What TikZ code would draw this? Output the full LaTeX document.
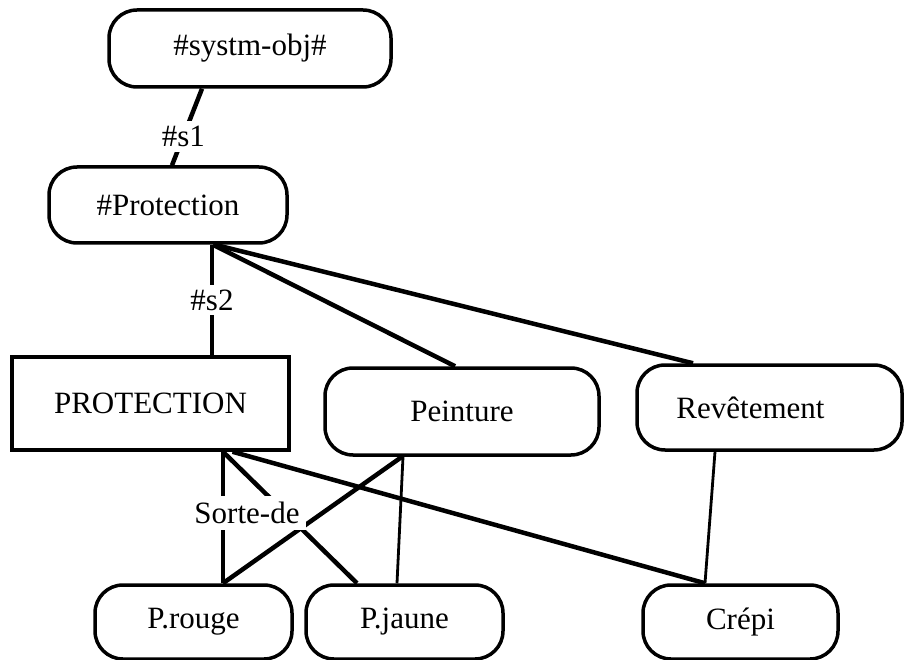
\documentclass[tikz,border=0pt]{standalone}
\usepackage{fontspec}
\setmainfont{Liberation Serif}
\usetikzlibrary{positioning, calc}
\tikzset{
    pill/.style={rectangle, rounded corners=28pt, draw, line width=3.5pt, align=center, font=\fontsize{31}{36}\selectfont},
    framebox/.style={rectangle, draw, line width=3.5pt, align=center, font=\fontsize{31}{36}\selectfont},
    link/.style={line width=4.5pt},
    thinlink/.style={line width=2.8pt},
    lbl/.style={fill=white, inner sep=5pt, font=\fontsize{31}{36}\selectfont},
}

\begin{document}
\begin{tikzpicture}[x=1pt, y=-1pt]
    \useasboundingbox (0,0) rectangle (905,660);
    % nodes
    \node[pill, minimum width=282pt, minimum height=77pt] (sysobj) at (250,48.5) {\#systm-obj\#};
    \node[pill, minimum width=238pt, minimum height=76pt] (hprot) at (168,205) {\#Protection};
    \node[framebox, minimum width=277pt, minimum height=93pt] (prot) at (150.5,403.5) {PROTECTION};
    \node[pill, minimum width=274pt, minimum height=87pt] (peint) at (462,411.5) {Peinture};
    \node[pill, minimum width=265pt, minimum height=85pt] (revet) at (769.5,407.5) {Revêtement\hspace{38pt}};
    \node[pill, minimum width=197pt, minimum height=74pt] (prouge) at (193.5,622) {P.rouge};
    \node[pill, minimum width=197pt, minimum height=74pt] (pjaune) at (404.5,622) {P.jaune};
    \node[pill, minimum width=195pt, minimum height=74pt] (crepi) at (740.5,622) {Crépi};

    % links
    \draw[link] ([xshift=-48pt]sysobj.south) -- node[lbl, pos=0.62] {\#s1} ([xshift=4pt]hprot.north);
    \draw[thinlink, line width=3.2pt] ([xshift=44pt]hprot.south) -- node[lbl] {\#s2} ([xshift=61.5pt]prot.north);
    \draw[link] ([xshift=45pt]hprot.south) -- ([xshift=-7pt]peint.north);
    \draw[link] ([xshift=47pt]hprot.south) -- ([xshift=-76.5pt]revet.north);
    \draw[thinlink, line width=3.2pt] ([xshift=72.5pt]prot.south) -- ([xshift=29.5pt]prouge.north);
    \draw[link] ([xshift=72.5pt]prot.south) -- ([xshift=-47.5pt]pjaune.north);
    \draw[link] ([xshift=82pt]prot.south) -- ([xshift=-35.5pt]crepi.north);
    \draw[link] ([xshift=-60pt]peint.south) -- ([xshift=29.5pt]prouge.north);
    \draw[thinlink] ([xshift=-59pt]peint.south) -- ([xshift=-7.5pt]pjaune.north);
    \draw[thinlink] ([xshift=-54.5pt]revet.south) -- ([xshift=-35.5pt]crepi.north);

    \node[lbl, inner sep=6pt] (sorte) at (247,513) {Sorte-de};
\end{tikzpicture}
\end{document}
